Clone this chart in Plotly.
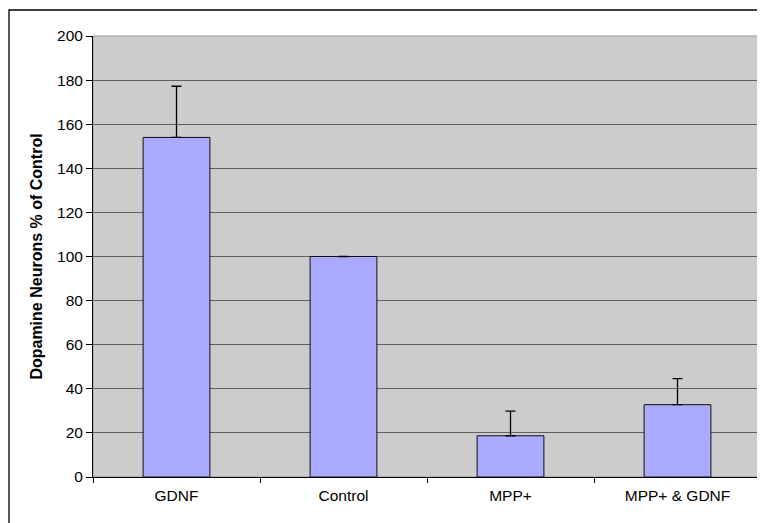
import plotly.graph_objects as go

categories = ["GDNF", "Control", "MPP+", "MPP+ & GDNF"]
values = [154, 100, 18.7, 32.8]
errors = [23.2, 0, 11.2, 11.8]
y_ticks = [0, 20, 40, 60, 80, 100, 120, 140, 160, 180, 200]

fig = go.Figure()
fig.add_trace(go.Bar(
    x=categories, y=values,
    marker=dict(color="#AAAAFF", line=dict(color="#111111", width=1)),
    error_y=dict(type="data", array=errors, symmetric=False, arrayminus=[0]*4,
                 color="#000000", thickness=1.3, width=5, visible=True),
    width=0.4,
))

# page body has an 8px margin in the browser
OFF = 8
W, H = 765 - OFF, 523 - OFF
L, T = 93 - OFF, 36 - OFF
R = W - (761 - OFF)
B = H - (477 - OFF)
pw, ph = W - L - R, H - T - B

fig.update_layout(
    width=W, height=H,
    margin=dict(l=L, r=R, t=T, b=B, pad=0),
    paper_bgcolor="white", plot_bgcolor="#CCCCCC",
    font=dict(family="Liberation Sans, Arial, sans-serif", size=15.5, color="#000000"),
    showlegend=False,
    xaxis=dict(
        tickson="boundaries", ticks="outside", ticklen=5, tickcolor="#000000",
        showline=True, linecolor="#000000", linewidth=1, mirror=False,
        showgrid=False, tickfont=dict(size=15.5), range=[-0.5, 3.5],
        ticklabelstandoff=4,
    ),
    yaxis=dict(
        range=[0, 200], tickvals=y_ticks, ticks="outside", ticklen=6, tickcolor="#000000",
        showline=True, linecolor="#000000", linewidth=1,
        showgrid=True, gridcolor="#606060", gridwidth=1.3, zeroline=False,
        tickfont=dict(size=15.5),
        title=dict(text="<b>Dopamine Neurons % of Control</b>", font=dict(size=16), standoff=10),
    ),
    shapes=[
        dict(type="rect", xref="paper", yref="paper", x0=0, x1=1, y0=0, y1=1,
             line=dict(color="#999999", width=1), layer="below"),
        dict(type="rect", xref="paper", yref="paper",
             x0=(9 - 93) / pw, x1=(W + 30 - L) / pw,
             y0=-(H + 30 - (T + ph)) / ph, y1=(477 - 10) / ph,
             line=dict(color="#000000", width=1.3), layer="below"),
    ],
)

fig.write_html("out.html")
